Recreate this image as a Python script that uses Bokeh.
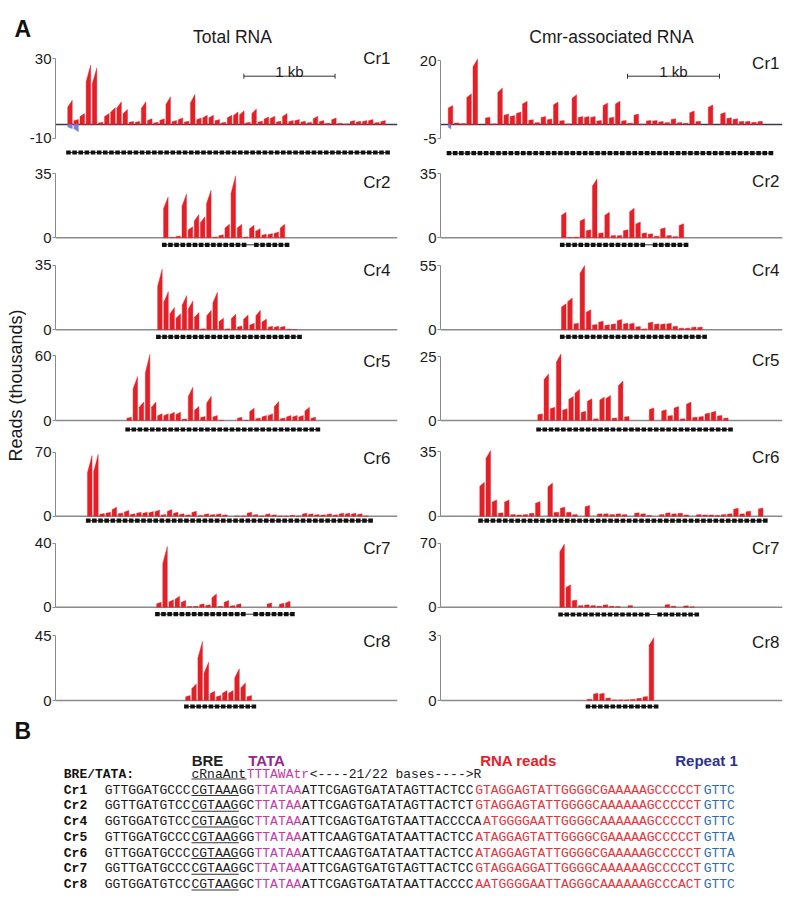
import math
from bokeh.plotting import figure
from bokeh.layouts import row, column
from bokeh.models import Range1d, FixedTicker, Span
from bokeh.embed import file_html
from bokeh.resources import INLINE
from bokeh.core.properties import value

SANS = "Liberation Sans"
MONO = "Liberation Mono"
RED = "#e41f26"
NEG_BLUE = "#7b80d6"
AXIS_GRAY = "#8a8a8a"

# ------------------------------------------------------------------ data (panel A)
CR_NAMES = ["Cr1", "Cr2", "Cr4", "Cr5", "Cr6", "Cr7", "Cr8"]
TOTAL_YMAX = [30, 35, 35, 60, 70, 40, 45]
CMR_YMAX = [20, 35, 55, 25, 35, 70, 3]
TOTAL_NEG_LABEL = -10
CMR_NEG_LABEL = -5

UNIT_KB = 0.0673          # one repeat+spacer unit (kb)
SCALE_BAR_KB = 1.0

# distance (kb) of first spacer from the left end of each track
TOTAL_START_KB = [0.134, 1.185, 1.120, 0.783, 0.351, 1.109, 1.427]
CMR_START_KB = [0.084, 1.315, 1.315, 1.058, 0.427, 1.297, 1.595]

# reads (thousands) per spacer, in array order
TOTAL_PEAKS = [
    [11, 2.3, 5, 27, 25.7, 1, 5, 7.7, 10.3, 6.8, 1.4, 1.4, 10.3, 2.6, 1, 2.6, 12.6, 1.8, 3, 1.5,
     13.7, 3, 4.2, 4.2, 2.3, 1, 4.2, 5.7, 6.2, 1, 7, 1.5, 3.4, 3.8, 1.5, 5, 1.8, 2.3, 1.5, 1,
     3.7, 1.8, 0.6, 3, 0.6, 0.3, 1.8, 1.5, 1.8, 2.3, 1, 1.8],
    [22.3, 0.3, 1, 24, 6, 12.7, 11.5, 26, 0.5, 1.6, 7.4, 33.9, 7.4, 0.5, 6.9, 5, 2, 2.3, 3.2, 7.4],
    [32.7, 20.6, 12, 8.7, 18.5, 15.6, 9.4, 0.6, 10.5, 20.3, 6.2, 0.6, 8.4, 2.1, 8, 3.5, 10.5, 5.8,
     1.9, 1.9, 1.9, 0.4, 0.2],
    [3, 40.6, 17, 61, 17, 6.2, 6.2, 7.7, 7.7, 1.5, 30.8, 13, 3.7, 22.5, 4.6, 0.3, 0, 0, 3, 0.2,
     11.4, 2.2, 4.6, 6.2, 17.5, 2.2, 4.6, 4.6, 4.6, 12.3, 3],
    [66.4, 67.5, 3, 4.4, 9.9, 3.6, 6.2, 2.6, 4.4, 4.4, 5.1, 6.9, 1.8, 7.3, 4.4, 2.6, 1.5, 5.5, 0.7,
     2.6, 1.8, 2.6, 1.5, 0, 0.3, 0.3, 4.4, 1.8, 0.3, 2.6, 1.5, 0.3, 0.3, 1.1, 0.3, 3.3, 2.6, 1.8,
     1.5, 2.6, 1.5, 3.3, 3.3, 3.3, 2.6, 0.3],
    [3.1, 38, 4.6, 6.9, 4.2, 0.4, 0.6, 2.1, 1.5, 8.3, 0.6, 4.2, 1, 2.1, 0, 0, 0, 0, 2.7, 0, 2.5, 3.75],
    [3.5, 11.5, 40.9, 26.5, 6.5, 3.5, 6.9, 6.9, 21.9, 12.2, 3.5],
]
CMR_PEAKS = [
    [5.9, 0.5, 0.3, 9.6, 20.5, 0, 2.3, 0.2, 11.4, 3.3, 2.8, 3.9, 7.3, 1.5, 0.6, 2.5, 1.7, 7, 1.25,
     0.2, 9.3, 2.5, 2.5, 2.5, 1.25, 6.7, 2.3, 7.3, 1.25, 0.4, 3.3, 0.1, 1.25, 1.25, 0.9, 0.6, 1.8,
     0.6, 0.4, 4.2, 1, 0, 6.1, 0, 3.75, 2.1, 1.8, 1, 1, 0.7, 1, 0],
    [14, 0.2, 0.4, 10.4, 4.4, 32.2, 2.7, 14, 1.3, 1.3, 4.4, 16.2, 8.6, 2.7, 2.2, 0.9, 5.5, 1.3, 0.7, 7.7],
    [22.2, 27.3, 5.7, 55, 17.1, 4.6, 7.4, 4.3, 5.1, 8.8, 5.7, 5.7, 2.8, 0.8, 6.6, 5.1, 5.1, 5.7,
     3.1, 1.4, 1.4, 2.3, 2.3],
    [2.6, 18.2, 5.2, 26, 4.6, 9.4, 12.1, 3.6, 8.5, 0.7, 9.1, 9.8, 1, 15.4, 1.6, 0, 0, 0, 4.9, 0,
     4.2, 2, 5.5, 0.7, 7.2, 1.3, 1.6, 2.9, 3.6, 2, 1],
    [18.4, 35.5, 8.8, 1.8, 8.8, 0.9, 0.7, 0.9, 1.6, 7.9, 0, 17.9, 2.2, 4.9, 2.2, 0.9, 0, 5.8, 0, 1.3,
     1.3, 0.9, 1.3, 0.9, 0, 1.8, 1.3, 0.4, 0, 0.9, 1.8, 1.3, 1.6, 0.7, 0, 0.9, 0.7, 0.7, 0.4, 0.9,
     1.3, 4.3, 1.3, 2.7, 0, 4.5],
    [69, 24.5, 8, 1.8, 2.6, 1.8, 1.1, 2.6, 1.1, 0.7, 0, 1.8, 0, 0, 0, 0, 0, 2.9, 1.1, 0, 1.5, 0.4],
    [0.06, 0.34, 0.34, 0.12, 0.03, 0.03, 0.03, 0.05, 0.1, 0.18, 2.9],
]
# antisense reads (thousands) over the first spacers of Cr1
TOTAL_CR1_NEG = [-3.0, -5.2]
CMR_CR1_NEG = [-1.6]
# repeats missing from the drawn array
TOTAL_DASH_GAPS = [[], [14], [], [], [], [15], []]
CMR_DASH_GAPS = [[], [14], [], [], [], [15], []]

# ------------------------------------------------------------------ data (panel B)
SEQ_NAMES = ["Cr1", "Cr2", "Cr4", "Cr5", "Cr6", "Cr7", "Cr8"]
SEQ_PREFIX = ["GTTGGATGCCC", "GGTTGATGTCC", "GGTGGATGTCC", "GTTGGATGCCC", "GTTGGATGCCC",
              "GGTTGATGCCC", "GGTGGATGTCC"]
SEQ_BRE = ["CGTAAA", "CGTAAG", "CGTAAG", "CGTAAG", "CGTAAG", "CGTAAG", "CGTAAG"]
SEQ_GAP = ["GG", "GC", "GC", "GG", "GG", "GC", "GC"]
SEQ_TATA = ["TTATAA"] * 7
SEQ_MID = ["ATTCGAGTGATATAGTTACTCC", "ATTCGAGTGATATAGTTACTCT", "ATTCGAGTGATGTAATTACCCCA",
           "ATTCAAGTGATATAATTACTCC", "ATTCAAGTGATATAATTACTCC", "ATTCGAGTGATGTAGTTACTCC",
           "ATTCGAGTGATATAATTACCCC"]
SEQ_READS = ["GTAGGAGTATTGGGGCGAAAAAGCCCCCT", "GTAGGAGTATTGGGGCAAAAAAGCCCCCT",
             "ATGGGGAATTGGGGCAAAAAAGCCCCCT", "ATAGGAGTATTGGGGCGAAAAAGCCCCCT",
             "ATAGGAGTATTGGGGCGAAAAAGCCCCCT", "GTAGGAGGATTGGGGCAAAAAAGCCCCCT",
             "AATGGGGAATTAGGGCAAAAAAGCCCACT"]
SEQ_REPEAT = ["GTTC", "GTTC", "GTTC", "GTTA", "GTTA", "GTTC", "GTTC"]
CONS_BRE = "cRnaAnt"
CONS_TATA = "TTTAWAtr"
CONS_REST = "<----21/22 bases---->R"

# ------------------------------------------------------------------ layout (page pixels)
PX_PER_KB = 92.0
ROW_FTOP = [50, 160, 252, 343, 437, 528, 620]
ROW_FBOT = [160, 252, 343, 437, 528, 620, 710]
ROW_ZERO = [124, 237.3, 329.3, 420, 515.7, 606.7, 700]
NEG_TICK_PX = 138
GEOM = {
    "total": dict(top=[58, 173.3, 264.5, 355, 451.7, 542.7, 635],
                  dash=[28, 7, 7, 9, 4.5, 7, 6],
                  label=[57.5, 181.7, 270, 361, 457.5, 547.5, 640.5],
                  W=386, mbl=26, mbr=15, fw=345, label_dx=7, bar_x0=(242 - 52) / PX_PER_KB),
    "cmr": dict(top=[60, 173.3, 265, 356, 451, 542.7, 635],
                dash=[28.7, 7, 7, 9, 4.5, 7.3, 6],
                label=[63, 180.8, 270, 360, 456.7, 548, 641.5],
                W=378, mbl=28, mbr=8, fw=342, label_dx=3, bar_x0=(627 - 440) / PX_PER_KB),
}
SCALEBAR_PX = 75.7
SCALETEXT_PX = 71.0


def blank(width, height, xr, yr):
    p = figure(width=width, height=height, x_range=xr, y_range=yr, toolbar_location=None,
               output_backend="svg", min_border=0, x_axis_location=None, y_axis_location=None,
               outline_line_color=None)
    p.grid.visible = False
    return p


def panel(kind, r):
    g = GEOM[kind]
    if kind == "total":
        ymax, peaks, start = TOTAL_YMAX[r], TOTAL_PEAKS[r], TOTAL_START_KB[r]
        gaps, negs, neg_label = TOTAL_DASH_GAPS[r], TOTAL_CR1_NEG, TOTAL_NEG_LABEL
        lo_frac, neg_w = 0.72, 0.75
    else:
        ymax, peaks, start = CMR_YMAX[r], CMR_PEAKS[r], CMR_START_KB[r]
        gaps, negs, neg_label = CMR_DASH_GAPS[r], CMR_CR1_NEG, CMR_NEG_LABEL
        lo_frac, neg_w = 0.88, 0.45
    Z = ROW_ZERO[r]
    k = (Z - g["top"][r]) / ymax
    H = ROW_FBOT[r] - ROW_FTOP[r]
    y0 = -(ROW_FBOT[r] - Z) / k
    y1 = (Z - ROW_FTOP[r]) / k
    xend = g["fw"] / PX_PER_KB
    p = figure(width=g["W"], height=H, x_range=Range1d(0, xend), y_range=Range1d(y0, y1),
               x_axis_location=None, toolbar_location=None, output_backend="svg",
               min_border_left=g["mbl"], min_border_right=g["mbr"], min_border_top=0,
               min_border_bottom=0, outline_line_color=None)
    p.grid.visible = False

    # axis
    if r == 0:
        neg_pos = round(-(NEG_TICK_PX - Z) / k, 4)
        ticks = [neg_pos, ymax]
        overrides = {neg_pos: str(neg_label)}
        neg_scale = neg_pos / neg_label
    else:
        ticks = [0, ymax]
        overrides = {}
    ax = p.yaxis[0]
    ax.ticker = FixedTicker(ticks=ticks, minor_ticks=[])
    ax.bounds = (ticks[0], ymax)
    ax.major_label_overrides = overrides
    ax.axis_line_color = AXIS_GRAY
    ax.major_tick_line_color = AXIS_GRAY
    ax.major_tick_in = 0
    ax.major_tick_out = 3
    ax.minor_tick_line_color = None
    ax.major_label_standoff = 1
    ax.major_label_text_font = SANS
    ax.major_label_text_font_size = "15px"
    ax.major_label_text_color = "#1a1a1a"

    p.add_layout(Span(location=0, dimension="width", line_color="#3a3a55" if r == 0 else AXIS_GRAY,
                      line_width=1.4, level="underlay"))

    # coverage peaks
    xs, ys = [], []
    for i, h in enumerate(peaks):
        if h <= 0:
            continue
        xa = start + i * UNIT_KB
        xb = xa + 0.74 * UNIT_KB
        xs.append([xa, xa, xb, xb])
        ys.append([0, lo_frac * h, h, 0])
    p.patches(xs, ys, fill_color=RED, line_color=RED, line_width=0.4)

    if r == 0:
        nx, ny = [], []
        for i, v in enumerate(negs):
            xa = start + i * UNIT_KB
            xb = xa + neg_w * UNIT_KB
            yv = v * neg_scale
            nx.append([xa, xa, xb, xb])
            ny.append([0, 0.6 * yv, yv, 0])
        p.patches(nx, ny, fill_color=NEG_BLUE, line_color=NEG_BLUE, line_width=0.4)
        # scale bar
        sb = (Z - SCALEBAR_PX) / k
        cap = 2.5 / k
        xa = g["bar_x0"]
        xb = xa + SCALE_BAR_KB
        p.segment(x0=[xa, xa, xb], y0=[sb, sb - cap, sb - cap], x1=[xb, xa, xb],
                  y1=[sb, sb + cap, sb + cap], line_color="#333333", line_width=1)
        p.text(x=[(xa + xb) / 2], y=[(Z - SCALETEXT_PX) / k], text=["1 kb"], text_align="center",
               text_baseline="alphabetic", text_font=value(SANS), text_font_size="15px",
               text_color="#1a1a1a")

    # repeat array
    n_rep = len(peaks) + 1
    dx = [start + (j + 0.12) * UNIT_KB for j in range(n_rep) if j not in gaps]
    dy = -g["dash"][r] / k
    p.line([dx[0], dx[-1]], [dy, dy], line_color="#333333", line_width=1)
    p.rect(x=dx, y=[dy] * len(dx), width=4.6, height=4.2, width_units="screen",
           height_units="screen", fill_color="#111111", line_color=None)

    # locus name
    p.text(x=[xend - g["label_dx"] / PX_PER_KB], y=[(Z - g["label"][r]) / k], text=[CR_NAMES[r]],
           text_align="right", text_baseline="middle", text_font=value(SANS),
           text_font_size="17px", text_color="#1a1a1a")
    return p


# ------------------------------------------------------------------ header
hdr = blank(790, 50, Range1d(0, 790), Range1d(50, 0))
hdr.text(x=[14], y=[28], text=["A"], text_font=value(SANS), text_font_style="bold",
         text_font_size="23px", text_baseline="alphabetic", text_color="#111111")
hdr.text(x=[232, 611], y=[36, 36], text=["Total RNA", "Cmr-associated RNA"], text_align="center",
         text_baseline="middle", text_font=value(SANS), text_font_size="17.5px", text_color="#1a1a1a")

lab = blank(26, 660, Range1d(0, 26), Range1d(-710, -50))
lab.text(x=[15], y=[-385], text=["Reads (thousands)"], angle=math.pi / 2, text_align="center",
         text_baseline="middle", text_font=value(SANS), text_font_size="18px",
         text_color="#1a1a1a")

left_col = column(*[panel("total", r) for r in range(7)], spacing=0)
right_col = column(*[panel("cmr", r) for r in range(7)], spacing=0)
mid = row(lab, left_col, right_col, spacing=0)

# ------------------------------------------------------------------ panel B
fb = blank(790, 188, Range1d(0, 790), Range1d(898, 710))
fb.text(x=[14], y=[730], text=["B"], text_font=value(SANS), text_font_style="bold",
        text_font_size="23px", text_baseline="alphabetic", text_color="#111111")
fb.text(x=[207, 266, 518, 706], y=[760] * 4, text=["BRE", "TATA", "RNA reads", "Repeat 1"],
        text_color=["#231f20", "#93278f", "#e8202a", "#2e3192"], text_align="center",
        text_baseline="middle", text_font=value(SANS), text_font_style="bold", text_font_size="15px")

SEQ_X0 = 104.3
CHAR_W = 7.88
LABEL_X = 63.3
CONS_Y = 773.5
ROW_Y0 = 789.5
ROW_DY = 15.75
SEQ_BLACK = "#1a1a1a"
SEQ_MAGENTA = "#c838a8"
SEQ_RED = "#e8323a"
SEQ_BLUE = "#2d6db5"

tx, ty, tt, tc = [], [], [], []
ulx0, ulx1, uly = [], [], []


def put(idx, y, s, c):
    tx.append(SEQ_X0 + idx * CHAR_W)
    ty.append(y)
    tt.append(s)
    tc.append(c)


# consensus line
put(11, CONS_Y, CONS_BRE, SEQ_BLACK)
put(11 + len(CONS_BRE), CONS_Y, CONS_TATA, SEQ_MAGENTA)
put(11 + len(CONS_BRE) + len(CONS_TATA), CONS_Y, CONS_REST, SEQ_BLACK)
ulx0.append(SEQ_X0 + 11 * CHAR_W)
ulx1.append(SEQ_X0 + (11 + len(CONS_BRE)) * CHAR_W)
uly.append(CONS_Y + 5)

for i in range(len(SEQ_NAMES)):
    y = ROW_Y0 + i * ROW_DY
    parts = [(SEQ_PREFIX[i], SEQ_BLACK), (SEQ_BRE[i], SEQ_BLACK), (SEQ_GAP[i], SEQ_BLACK),
             (SEQ_TATA[i], SEQ_MAGENTA), (SEQ_MID[i], SEQ_BLACK), (SEQ_READS[i], SEQ_RED),
             (SEQ_REPEAT[i], SEQ_BLUE)]
    idx = 0
    for j, (s, c) in enumerate(parts):
        put(idx, y, s, c)
        if j == 1:
            ulx0.append(SEQ_X0 + idx * CHAR_W)
            ulx1.append(SEQ_X0 + (idx + len(s)) * CHAR_W)
            uly.append(y + 5.5)
        idx += len(s)

fb.text(x=tx, y=ty, text=tt, text_color=tc, text_align="left", text_baseline="middle",
        text_font=value(MONO), text_font_size="13px")
fb.segment(x0=ulx0, y0=uly, x1=ulx1, y1=uly, line_color="#333333", line_width=1)
fb.text(x=[LABEL_X] * (len(SEQ_NAMES) + 1), y=[CONS_Y] + [ROW_Y0 + i * ROW_DY for i in range(len(SEQ_NAMES))],
        text=["BRE/TATA:"] + SEQ_NAMES, text_align="left", text_baseline="middle",
        text_font=value(MONO), text_font_style="bold", text_font_size="13px", text_color="#111111")

layout = column(hdr, mid, fb, spacing=0)
open("out.html", "w").write(file_html(layout, INLINE))
